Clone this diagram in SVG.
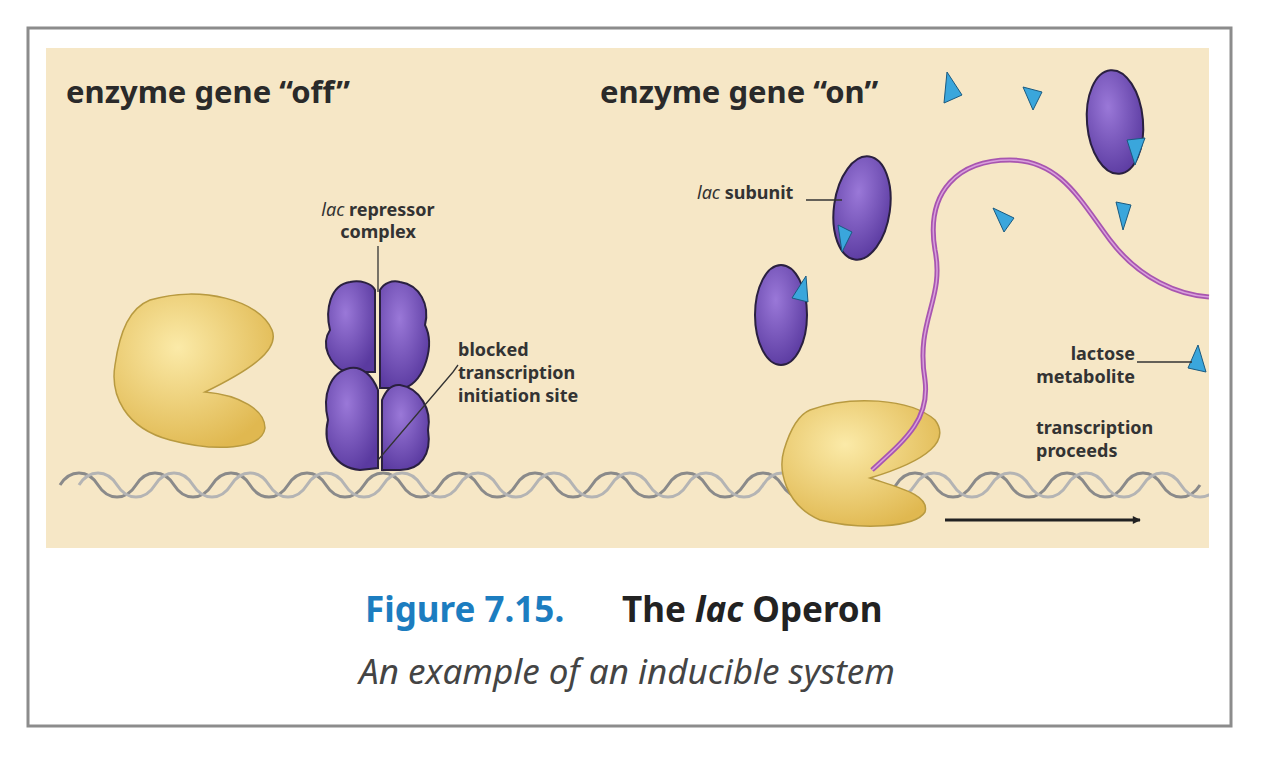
<svg xmlns="http://www.w3.org/2000/svg" width="1276" height="779" viewBox="0 0 1276 779">
<defs>
<style>
.t{font-family:"Noto Sans","Open Sans",sans-serif;font-weight:bold;fill:#2a2a2a}
.lb{font-family:"Noto Sans","Open Sans",sans-serif;font-weight:bold;font-size:18px;fill:#333}
.ln{stroke:#333;stroke-width:1.3;fill:none}
.pur{fill:#7350b8;stroke:#2a2040;stroke-width:2}
.yel{fill:#f0d27a;stroke:#b89a40;stroke-width:1.5}
.tri{fill:#3aa6dc;stroke:#1a5a80;stroke-width:1}
</style>
<clipPath id="panel"><rect x="46" y="48" width="1163" height="500"/></clipPath>
<radialGradient id="py" cx="0.4" cy="0.35" r="0.7"><stop offset="0" stop-color="#fbeaa8"/><stop offset="1" stop-color="#e0b850"/></radialGradient>
<radialGradient id="pp" cx="0.4" cy="0.35" r="0.7"><stop offset="0" stop-color="#9a78d8"/><stop offset="1" stop-color="#5a3aa0"/></radialGradient>
<marker id="ar" viewBox="0 0 10 10" refX="9" refY="5" markerWidth="14" markerHeight="8" orient="auto" markerUnits="userSpaceOnUse"><path d="M0,0L10,5L0,10z" fill="#222"/></marker>
<path id="wave" d="M0,0 c10,-16 28,-16 38,0 c10,16 28,16 38,0 c10,-16 28,-16 38,0 c10,16 28,16 38,0 c10,-16 28,-16 38,0 c10,16 28,16 38,0 c10,-16 28,-16 38,0 c10,16 28,16 38,0 c10,-16 28,-16 38,0 c10,16 28,16 38,0 c10,-16 28,-16 38,0 c10,16 28,16 38,0 c10,-16 28,-16 38,0 c10,16 28,16 38,0 c10,-16 28,-16 38,0 c10,16 28,16 38,0 c10,-16 28,-16 38,0 c10,16 28,16 38,0 c10,-16 28,-16 38,0 c10,16 28,16 38,0 c10,-16 28,-16 38,0 c10,16 28,16 38,0 c10,-16 28,-16 38,0 c10,16 28,16 38,0 c10,-16 28,-16 38,0 c10,16 28,16 38,0 c10,-16 28,-16 38,0 c10,16 28,16 38,0 c10,-16 28,-16 38,0 c10,16 28,16 38,0"/>
</defs>
<rect width="1276" height="779" fill="#fff"/>
<rect x="28" y="28" width="1203" height="698" fill="#fff" stroke="#8c8c8c" stroke-width="3"/>
<rect x="46" y="48" width="1163" height="500" fill="#f6e7c6"/>

<g id="dna" fill="none" stroke-width="3" clip-path="url(#panel)">
<use href="#wave" x="60" y="485" stroke="#8a8a8a"/>
<use href="#wave" x="79" y="485" stroke="#b4b4b4"/>
</g>

<g id="polymerase-off"><path class="yel" style="fill:url(#py)" d="M150,300 C200,285 260,300 272,330 C280,350 250,370 205,392 C240,395 265,410 265,428 C262,450 215,452 170,440 C125,428 110,395 115,365 C120,330 130,308 150,300Z"/></g>

<g id="repressor">
<path class="pur" style="fill:url(#pp)" d="M350,282 C330,285 325,310 330,330 C320,345 330,365 345,372 L375,372 L375,290 C372,283 360,280 350,282Z"/>
<path class="pur" style="fill:url(#pp)" d="M400,282 C420,285 430,305 425,325 C435,345 425,380 405,388 L380,388 L380,290 C384,283 392,280 400,282Z"/>
<path class="pur" style="fill:url(#pp)" d="M350,368 C330,372 322,395 328,420 C322,445 335,468 360,470 L378,468 L378,390 C372,375 362,366 350,368Z"/>
<path class="pur" style="fill:url(#pp)" d="M400,385 C420,388 432,410 428,430 C432,455 420,470 400,470 L382,470 L382,400 C386,390 392,384 400,385Z"/>
</g>

<g id="polymerase-on"><path class="yel" style="fill:url(#py)" d="M810,410 C850,395 910,398 935,420 C950,440 930,460 870,478 C900,488 930,495 925,512 C915,528 860,530 820,520 C785,505 778,470 784,450 C790,430 798,415 810,410Z"/></g>

<g id="mrna"><path d="M872,470 C905,440 930,420 925,380 C915,320 945,300 935,250 C925,190 960,160 1010,160 C1060,160 1080,200 1110,240 C1140,280 1180,295 1209,297" fill="none" stroke="#a855b0" stroke-width="5"/><path d="M872,470 C905,440 930,420 925,380 C915,320 945,300 935,250 C925,190 960,160 1010,160 C1060,160 1080,200 1110,240 C1140,280 1180,295 1209,297" fill="none" stroke="#d9a0dc" stroke-width="1.5"/></g>

<g id="subunits">
<ellipse class="pur" style="fill:url(#pp)" cx="862" cy="208" rx="28" ry="52" transform="rotate(8 862 208)"/>
<polygon class="tri" points="838,225 852,232 842,252"/>
<ellipse class="pur" style="fill:url(#pp)" cx="781" cy="315" rx="26" ry="50"/>
<polygon class="tri" points="792,298 806,276 808,302"/>
<ellipse class="pur" style="fill:url(#pp)" cx="1115" cy="122" rx="28" ry="52" transform="rotate(-5 1115 122)"/>
<polygon class="tri" points="1127,140 1145,138 1135,165"/>
</g>
<g id="lactose">
<polygon class="tri" points="947,72 962,95 944,103"/>
<polygon class="tri" points="1023,87 1042,92 1033,110"/>
<polygon class="tri" points="993,208 1014,218 1004,232"/>
<polygon class="tri" points="1116,202 1131,205 1123,230"/>
<polygon class="tri" points="1198,345 1206,372 1188,368"/>
</g>

<g id="connectors">
<line class="ln" x1="378" y1="246" x2="378" y2="292"/>
<path class="ln" d="M458,365 L453,372 L378,460"/>
<path class="ln" d="M806,200 L842,200"/>
<line class="ln" x1="1137" y1="362" x2="1192" y2="362"/>
<line x1="945" y1="520" x2="1140" y2="520" stroke="#222" stroke-width="3" marker-end="url(#ar)"/>
</g>

<g id="labels">
<text class="t" x="66" y="103" font-size="31">enzyme gene “off”</text>
<text class="t" x="600" y="103" font-size="31">enzyme gene “on”</text>
<text class="lb" x="378" y="216" text-anchor="middle"><tspan font-style="italic" font-weight="normal">lac</tspan> repressor</text>
<text class="lb" x="378" y="238" text-anchor="middle">complex</text>
<text class="lb" x="458" y="356">blocked</text>
<text class="lb" x="458" y="379">transcription</text>
<text class="lb" x="458" y="402">initiation site</text>
<text class="lb" x="697" y="199"><tspan font-style="italic" font-weight="normal">lac</tspan> subunit</text>
<text class="lb" x="1135" y="360" text-anchor="end">lactose</text>
<text class="lb" x="1135" y="383" text-anchor="end">metabolite</text>
<text class="lb" x="1036" y="434">transcription</text>
<text class="lb" x="1036" y="457">proceeds</text>
<text x="365" y="622" font-family="Noto Sans,Open Sans,sans-serif" font-weight="bold" font-size="35" fill="#1c7dc0">Figure 7.15.</text>
<text x="622" y="622" font-family="Noto Sans,Open Sans,sans-serif" font-weight="bold" font-size="35" fill="#222">The <tspan font-style="italic">lac</tspan> Operon</text>
<text x="627" y="684" text-anchor="middle" font-family="Noto Sans,Open Sans,sans-serif" font-style="italic" font-size="35" fill="#444">An example of an inducible system</text>
</g>
</svg>
